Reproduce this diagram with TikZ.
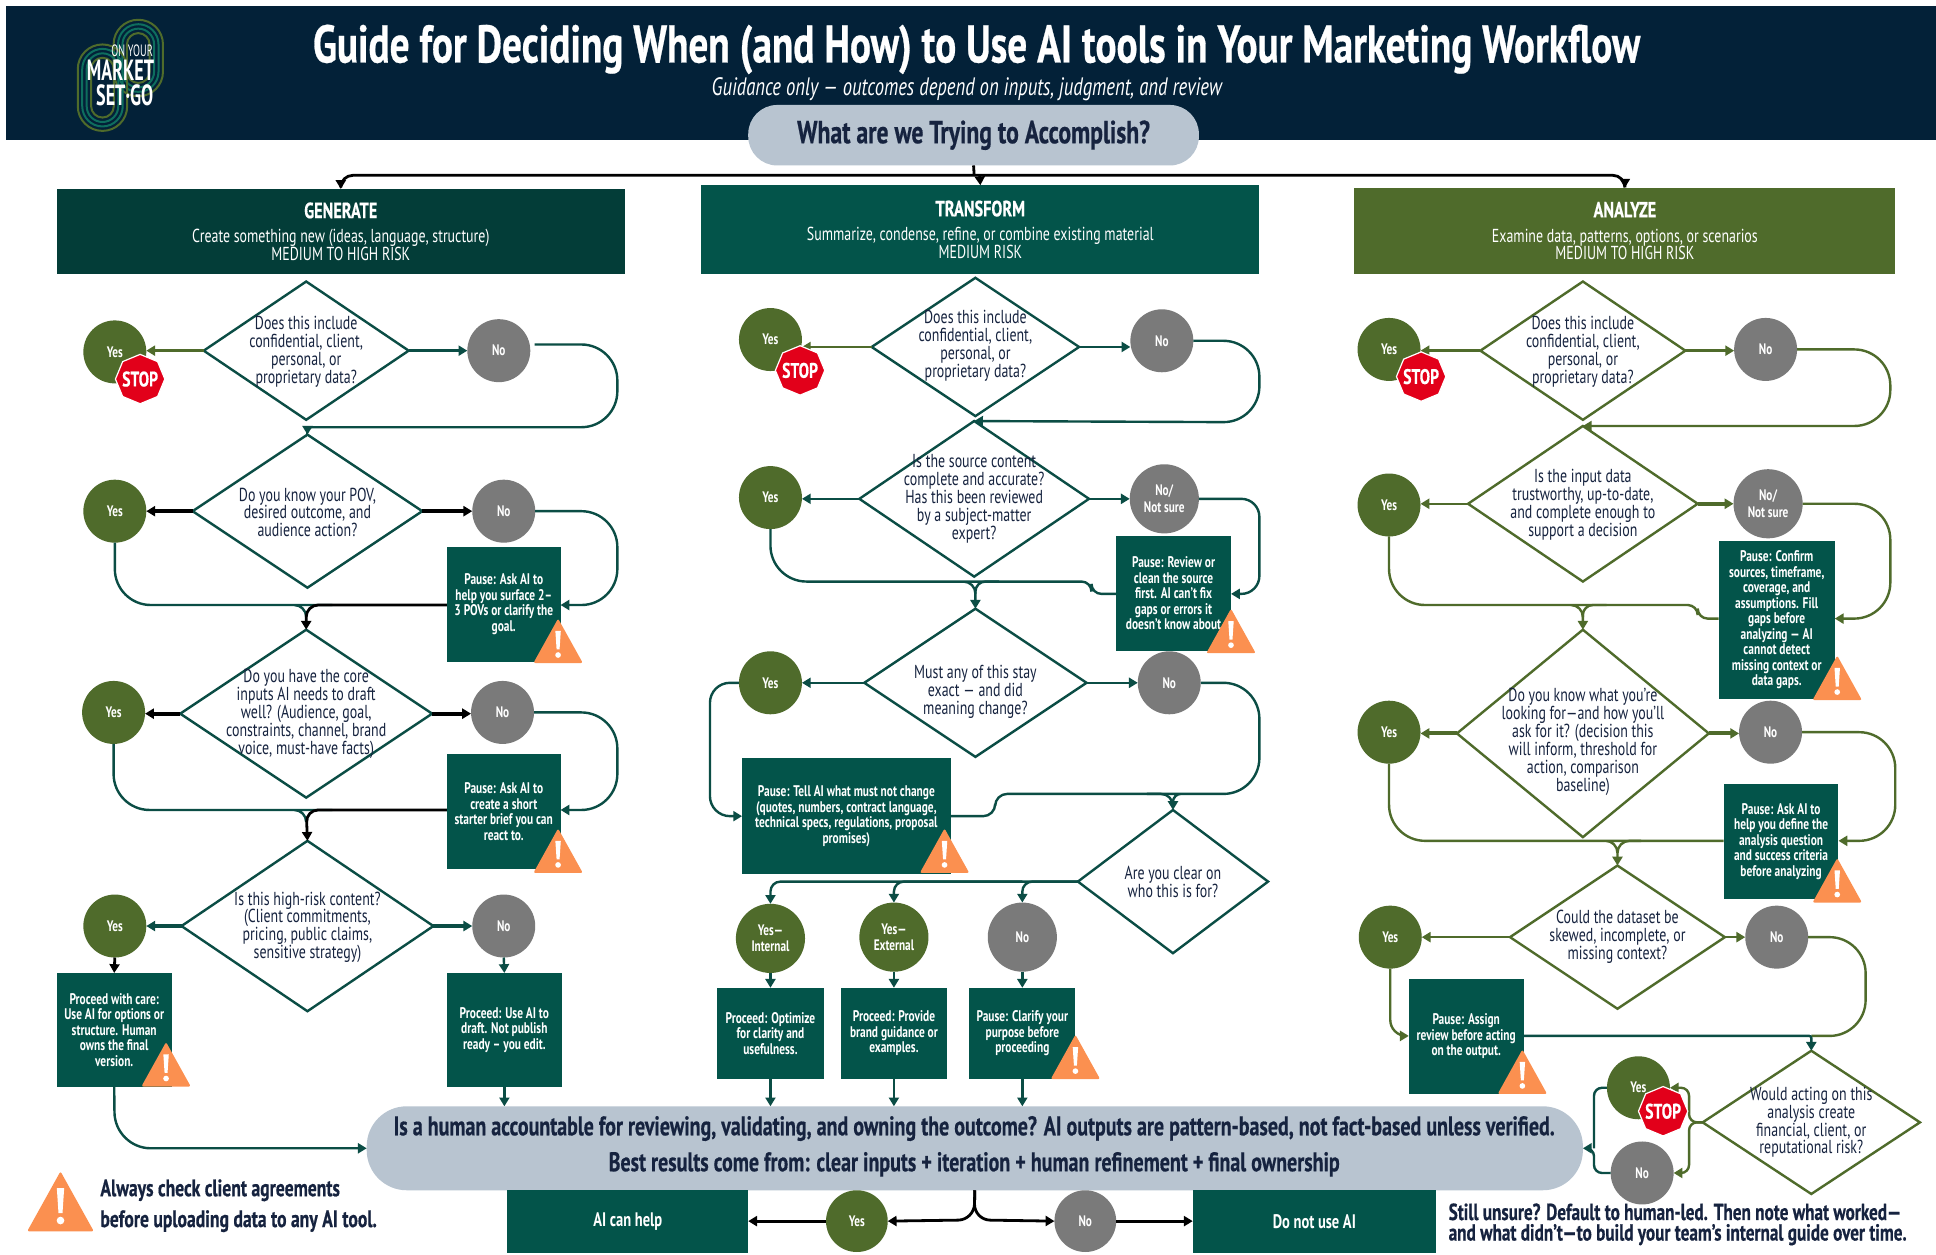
\documentclass[tikz,border=0pt]{standalone}
\usepackage{fontspec}
\setmainfont{PT Sans}[FakeStretch=0.74]
\newfontfamily\hv{PT Sans Bold}[FakeStretch=0.74,FakeBold=0.5]
\newfontfamily\lgf{PT Sans}[FakeStretch=0.62]
\usetikzlibrary{arrows.meta,shapes.geometric,calc}
\definecolor{navy}{HTML}{032138}
\definecolor{pillc}{HTML}{B8C4D0}
\definecolor{genc}{HTML}{033D38}
\definecolor{tealc}{HTML}{03544A}
\definecolor{olivec}{HTML}{4F6B2B}
\definecolor{greyc}{HTML}{7A7A7A}
\definecolor{orangec}{HTML}{FB9050}
\definecolor{redc}{HTML}{E2001A}
\definecolor{txtc}{HTML}{16233F}
\definecolor{linec}{HTML}{0B4D45}
\definecolor{logoa}{HTML}{4F6B2B}
\definecolor{logob}{HTML}{0E6E5E}
\newcommand\ux{0.61735pt}
\newcommand\bx[6]{\node[pbox,minimum width={(#4-#2)*\ux},minimum height={(#5-#3)*\ux}] (#1) at ({(#2+#4)/2},{(#3+#5)/2}) {#6};}
\newcommand\hb[7]{\node[hbar,fill=#7,minimum width={(#4-#2)*\ux},minimum height={(#5-#3)*\ux}] (#1) at ({(#2+#4)/2},{(#3+#5)/2}) {#6};}
\newcommand\dm[6]{\node[#2,minimum width={2*#5*\ux},minimum height={2*#6*\ux}] (#1) at (#3,#4) {};}
\newcommand\trk[6]{\draw[#6,line width=1pt,rounded corners=#5] (#1,#2) rectangle (#3,#4);}
\tikzset{
  pbox/.style={rectangle,fill=tealc,text=white,inner sep=0pt,outer sep=0pt,align=center,font=\fontsize{7.7}{7.75}\selectfont\bfseries},
  hbar/.style={pbox,font=\fontsize{9.4}{8.8}\selectfont},
  dmt/.style={diamond,draw=linec,fill=white,line width=1.2pt,inner sep=0pt,outer sep=0pt},
  dmo/.style={dmt,draw=olivec},
  qtext/.style={align=center,inner sep=0pt,text=txtc,font=\fontsize{9.4}{8.95}\selectfont},
  yesc/.style={circle,fill=olivec,text=white,minimum size=51*\ux,inner sep=0pt,outer sep=0pt,align=center,font=\fontsize{7.6}{8.2}\selectfont\bfseries},
  noc/.style={yesc,fill=greyc},
  lnt/.style={draw=linec,line width=1.2pt,rounded corners=18pt},
  lno/.style={draw=olivec,line width=1.2pt,rounded corners=18pt},
  lnb/.style={draw=black,line width=1.4pt,rounded corners=6pt},
  thick2/.style={line width=2pt},
  tip/.style={-{Triangle[length=4.4pt,width=5pt]}},
  stopsign/.style={regular polygon,regular polygon sides=8,shape border rotate=22.5,fill=redc,draw=white,line width=0.6pt,minimum size=40*\ux,inner sep=0pt,text=white,font=\fontsize{10.5}{10}\selectfont\hv},
  warn/.pic={
    \fill[orangec,rounded corners=1pt] (0,-18) -- (20,18) -- (-20,18) -- cycle;
    \fill[white] (-2.2,-8) -- (2.2,-8) -- (1.2,7) -- (-1.2,7) -- cycle;
    \fill[white] (0,11.5) circle[radius=2.3];
  },
  plain/.style={align=left,inner sep=0pt,anchor=west,text=txtc,font=\fontsize{11.9}{11}\selectfont\hv}
}
\begin{document}
\begin{tikzpicture}[x=0.61735pt,y=-0.61735pt]
\useasboundingbox (0,0) rectangle (1568,1015.7);
\fill[white] (0,0) rectangle (1568,1015.7);
\fill[navy] (5,5) rectangle (1568,113);
% logo
\trk{92}{16}{132}{78}{12.3pt}{logoa}
\trk{95.6}{19.6}{128.4}{74.4}{10.1pt}{logob}
\trk{99.2}{23.2}{124.8}{70.8}{7.9pt}{logob}
\trk{102.8}{26.8}{121.2}{67.2}{5.7pt}{logoa}
\trk{63}{36}{103}{106}{12.3pt}{logoa}
\trk{66.6}{39.6}{99.4}{102.4}{10.1pt}{logob}
\trk{70.2}{43.2}{95.8}{98.8}{7.9pt}{logob}
\trk{73.8}{46.8}{92.2}{95.2}{5.7pt}{logoa}
\node[inner sep=0pt,text=white,font=\fontsize{8.2}{8}\selectfont\lgf] (lg1) at (107,41) {ON YOUR};
\node[inner sep=0pt,text=white,font=\fontsize{14.6}{14}\selectfont\lgf\bfseries] (lg2) at (97.6,57) {MARKET};
\node[inner sep=0pt,text=white,font=\fontsize{14.6}{14}\selectfont\lgf\bfseries] (lg3) at (101,77) {SET·GO};
% title
\node[inner sep=0pt,text=white,font=\fontsize{26.5}{26}\selectfont\hv] (title) at (791,40) {Guide for Deciding When (and How) to Use AI tools in Your Marketing Workflow};
\node[inner sep=0pt,text=white,font=\fontsize{12.6}{13}\selectfont\itshape] (subt) at (783,72.5) {Guidance only — outcomes depend on inputs, judgment, and review};
\node[fill=pillc,rounded corners=14.5pt,minimum width=365*\ux,minimum height=49*\ux,inner sep=0pt,outer sep=0pt,text=txtc,font=\fontsize{16}{16}\selectfont\hv] (ask) at (788.5,109.5) {What are we Trying to Accomplish?};
% header bars
\hb{gen}{46}{153}{506}{222}{{\fontsize{11}{11}\selectfont\hv GENERATE}\\[3.5pt]Create something new (ideas, language, structure)\\MEDIUM TO HIGH RISK}{genc}
\hb{trf}{568}{150}{1020}{222}{{\fontsize{11}{11}\selectfont\hv TRANSFORM}\\[3.5pt]Summarize, condense, refine, or combine existing material\\MEDIUM RISK}{tealc}
\hb{ana}{1097}{152}{1535}{222}{{\fontsize{11}{11}\selectfont\hv ANALYZE}\\[3.5pt]Examine data, patterns, options, or scenarios\\MEDIUM TO HIGH RISK}{olivec}
% main pill
\node[fill=pillc,rounded corners=20pt,minimum width=985*\ux,minimum height=68*\ux,inner sep=0pt,outer sep=0pt] (main) at (789.5,930) {};
\node[inner sep=0pt,text=txtc,font=\fontsize{13.5}{13}\selectfont\hv] (m1) at (789,914) {Is a human accountable for reviewing, validating, and owning the outcome? AI outputs are pattern-based, not fact-based unless verified.};
\node[inner sep=0pt,text=txtc,font=\fontsize{13.5}{13}\selectfont\hv] (m2) at (789,943) {Best results come from: clear inputs + iteration + human refinement + final ownership};
% column 1
\dm{ad}{dmt}{248}{284}{83}{56}
\dm{bd}{dmt}{249}{414}{93}{62}
\dm{cd}{dmt}{248}{578}{102}{68}
\dm{dd}{dmt}{249}{750}{102}{69}
\node[qtext] (adt) at (248,285) {Does this include\\confidential, client,\\personal, or\\proprietary data?};
\node[qtext] (bdt) at (249,415) {Do you know your POV,\\desired outcome, and\\audience action?};
\node[qtext] (cdt) at (248,578) {Do you have the core\\inputs AI needs to draft\\well? (Audience, goal,\\constraints, channel, brand\\voice, must-have facts)};
\node[qtext] (ddt) at (249,751) {Is this high-risk content?\\(Client commitments,\\pricing, public claims,\\sensitive strategy)};
\node[yesc] (ay) at (93,285) {Yes};
\node[noc] (an) at (404,284) {No};
\node[yesc] (by) at (93,414) {Yes};
\node[noc] (bn) at (408,414) {No};
\node[yesc] (cy) at (92,577) {Yes};
\node[noc] (cn) at (407,577) {No};
\node[yesc] (dy) at (93,750) {Yes};
\node[noc] (dn) at (408,750) {No};
\bx{bp}{362}{443}{454}{536}{Pause: Ask AI to\\help you surface 2–\\3 POVs or clarify the\\goal.}
\bx{cp}{362}{611}{454}{704}{Pause: Ask AI to\\create a short\\starter brief you can\\react to.}
\bx{dpa}{46}{788}{139}{880}{Proceed with care:\\Use AI for options or\\structure. Human\\owns the final\\version.}
\bx{dpb}{362}{788}{455}{880}{Proceed: Use AI to\\draft. Not publish\\ready – you edit.}
% column 2
\dm{ed}{dmt}{790}{281}{84}{56}
\dm{fd}{dmt}{789}{404}{93}{63}
\dm{gd}{dmt}{790}{553}{90}{60}
\dm{hd}{dmt}{950}{714}{77}{58}
\node[qtext] (edt) at (790,280) {Does this include\\confidential, client,\\personal, or\\proprietary data?};
\node[qtext] (fdt) at (789,404) {Is the source content\\complete and accurate?\\Has this been reviewed\\by a subject-matter\\expert?};
\node[qtext] (gdt) at (790,560.5) {Must any of this stay\\exact — and did\\meaning change?};
\node[qtext] (hdt) at (950,714) {Are you clear on\\who this is for?};
\node[yesc] (ey) at (624,275) {Yes};
\node[noc] (en) at (941,276) {No};
\node[yesc] (fy) at (624,403) {Yes};
\node[noc,minimum size=56*\ux] (fn) at (943,404) {No/\\Not sure};
\node[yesc] (gy) at (624,553) {Yes};
\node[noc] (gn) at (947,553) {No};
\bx{fp}{904}{434}{997}{527}{Pause: Review or\\clean the source\\first. AI can't fix\\gaps or errors it\\doesn't know about}
\bx{gp}{601}{614}{770}{708}{Pause: Tell AI what must not change\\(quotes, numbers, contract language,\\technical specs, regulations, proposal\\promises)}
\node[yesc,minimum size=56*\ux] (hya) at (624,760) {Yes—\\Internal};
\node[yesc,minimum size=56*\ux] (hyb) at (724,759) {Yes—\\External};
\node[noc,minimum size=56*\ux] (hn) at (828,759) {No};
\bx{hpa}{581}{800}{667}{874}{Proceed: Optimize\\for clarity and\\usefulness.}
\bx{hpb}{681}{800}{767}{874}{Proceed: Provide\\brand guidance or\\examples.}
\bx{hpc}{785}{800}{871}{874}{Pause: Clarify your\\purpose before\\proceeding}
% column 3
\dm{id}{dmo}{1282}{284}{83}{56}
\dm{jd}{dmo}{1282}{408}{93}{63}
\dm{kd}{dmo}{1282}{594}{102}{84}
\dm{ld}{dmo}{1310}{759}{87}{58}
\dm{md}{dmo}{1467}{909}{88}{58}
\node[qtext] (idt) at (1282,285) {Does this include\\confidential, client,\\personal, or\\proprietary data?};
\node[qtext] (jdt) at (1282,408.5) {Is the input data\\trustworthy, up-to-date,\\and complete enough to\\support a decision};
\node[qtext] (kdt) at (1282,601) {Do you know what you're\\looking for—and how you'll\\ask for it? (decision this\\will inform, threshold for\\action, comparison\\baseline)};
\node[qtext] (ldt) at (1310,759) {Could the dataset be\\skewed, incomplete, or\\missing context?};
\node[qtext] (mdt) at (1467,909) {Would acting on this\\analysis create\\financial, client, or\\reputational risk?};
\node[yesc] (iy) at (1125,283) {Yes};
\node[noc] (in) at (1430,283) {No};
\node[yesc] (jy) at (1125,409) {Yes};
\node[noc,minimum size=56*\ux] (jn) at (1432,408) {No/\\Not sure};
\node[yesc] (ky) at (1125,593) {Yes};
\node[noc] (kn) at (1434,593) {No};
\node[yesc] (ly) at (1126,759) {Yes};
\node[noc] (ln) at (1439,759) {No};
\node[yesc] (my) at (1327,881) {Yes};
\node[noc] (mn) at (1330,950) {No};
\bx{jp}{1392}{438}{1486}{566}{Pause: Confirm\\sources, timeframe,\\coverage, and\\assumptions. Fill\\gaps before\\analyzing — AI\\cannot detect\\missing context or\\data gaps.}
\bx{kp}{1396}{635}{1489}{728}{Pause: Ask AI to\\help you define the\\analysis question\\and success criteria\\before analyzing}
\bx{lp}{1141}{793}{1234}{886}{Pause: Assign\\review before acting\\on the output.}
% bottom row
\bx{canh}{411}{964}{606}{1015}{\fontsize{9.8}{10}\selectfont AI can help}
\bx{dont}{966}{964}{1163}{1015}{\fontsize{9.8}{10}\selectfont Do not use AI}
\node[yesc,minimum size=50*\ux] (zy) at (694,989) {Yes};
\node[noc,minimum size=50*\ux] (zn) at (879,989) {No};
\node[plain] (nl1) at (81,964) {Always check client agreements};
\node[plain] (nl2) at (81,989) {before uploading data to any AI tool.};
\node[plain,font=\fontsize{11.6}{11}\selectfont\hv] (nr1) at (1173,981.5) {Still unsure? Default to human-led. Then note what worked—};
\node[plain,font=\fontsize{11.6}{11}\selectfont\hv] (nr2) at (1173,1000) {and what didn’t—to build your team’s internal guide over time.};
% ---- connectors: top
\coordinate (topa) at (789,142);
\coordinate (topb) at (793.5,142);
\draw[lnb] (ask.south) -- (topa);
\draw[lnb,tip] (topa) -- (276,142) -- (gen.north);
\draw[lnb,tip] (topb) -- (trf.north);
\draw[lnb,tip] (topa) -- (1316,142) -- (ana.north);
% column 1
\draw[lno,tip] (ad.west) -- (ad.west -| ay.east);
\draw[lnt,tip] (ad.east) -- (ad.east -| an.west);
\coordinate (ano) at (433,279);
\draw[lnt,tip] (ano) -- (500,279) -- (500,346) [rounded corners=2pt] -- (249,346) -- (bd.north);
\draw[lnb,thick2,tip] (bd.west) -- (bd.west -| by.east);
\draw[lnb,thick2,tip] (bd.east) -- (bd.east -| bn.west);
\draw[lnt,tip] (bn.east) -- (500,414) -- (500,490) -- (bp.east |- 0,490);
\draw[lnt] (by.south) -- (93,490) -- (240,490) [rounded corners=6pt] -- (248,490) -- (248,498);
\draw[lnb,tip] (bp.west |- 0,490) -- (248,490) -- (cd.north);
\draw[lnb,thick2,tip] (cd.west) -- (cd.west -| cy.east);
\draw[lnb,thick2,tip] (cd.east) -- (cd.east -| cn.west);
\draw[lnt,tip] (cn.east) -- (500,577) -- (500,656) -- (cp.east |- 0,656);
\draw[lnt] (cy.south) -- (92,656) -- (240,656) [rounded corners=6pt] -- (248,656) -- (248,664);
\draw[lnb,tip] (cp.west |- 0,656) -- (248,656) -- (dd.north);
\draw[lnt,thick2,tip] (dd.west) -- (dd.west -| dy.east);
\draw[lnt,thick2,tip] (dd.east) -- (dd.east -| dn.west);
\draw[lnb,tip] (dy.south) -- (dpa.north);
\draw[lnt,tip] (dn.south) -- (dpb.north);
\draw[lnt,tip] (dpb.south) -- (dpb.south |- main.north);
\draw[lnt,tip] (dpa.south) -- (93,930) -- (main.west);
% column 2
\draw[lno,tip] (ed.west) -- (ed.west -| ey.east);
\draw[lnt,tip] (ed.east) -- (ed.east -| en.west);
\draw[lnt,tip] (en.east) -- (1020,276) -- (1020,342) -- (fd.north);
\draw[lnt,tip] (fd.west) -- (fd.west -| fy.east);
\draw[lnt,tip] (fd.east) -- (fd.east -| fn.west);
\draw[lnt,tip,rounded corners=9pt] (fn.east) -- (1020,404) -- (1020,481) -- (fp.east |- 0,481);
\draw[lnt] (fy.south) -- (624,471) -- (780,471) [rounded corners=6pt] -- (790,471) -- (790,480);
\draw[lnt,tip,rounded corners=5pt] (fp.west |- 0,481) -- (884,481) -- (884,471) -- (790,471) -- (gd.north);
\draw[lnt,tip] (gd.west) -- (gd.west -| gy.east);
\draw[lnt,tip] (gd.east) -- (gd.east -| gn.west);
\draw[lnt,tip,rounded corners=10pt] (gy.west) -- (575,553) -- (575,661) -- (gp.west |- 0,661);
\draw[lnt] (gn.east) -- (1020,553) -- (1020,643) -- (958,643) [rounded corners=4pt] -- (950,643) -- (950,650);
\draw[lnt,tip,rounded corners=6pt] (gp.east |- 0,661) -- (806,661) -- (806,643) -- (950,643) -- (hd.north);
\coordinate (hbr) at (828,714);
\draw[lnt,tip,rounded corners=5pt] (hd.west) -- (624,714) -- (hya.north);
\draw[lnt,tip,rounded corners=5pt] (hbr) -- (724,714) -- (hyb.north);
\draw[lnt,tip,rounded corners=5pt] (hd.west) -- (828,714) -- (hn.north);
\draw[lnt,tip] (hya.south) -- (hpa.north);
\draw[lnt,tip] (hyb.south) -- (hpb.north);
\draw[lnt,tip] (hn.south) -- (hpc.north);
\draw[lnt,tip] (hpa.south) -- (hpa.south |- main.north);
\draw[lnt,tip] (hpb.south) -- (hpb.south |- main.north);
\draw[lnt,tip] (hpc.south) -- (hpc.south |- main.north);
% column 3
\draw[lno,tip] (id.west) -- (id.west -| iy.east);
\draw[lno,tip] (id.east) -- (id.east -| in.west);
\draw[lno,tip] (in.east) -- (1531,283) -- (1531,345) -- (jd.north);
\draw[lno,tip] (jd.west) -- (jd.west -| jy.east);
\draw[lno,thick2,tip] (jd.east) -- (jd.east -| jn.west);
\draw[lno,tip] (jn.east) -- (1531,408) -- (1531,501) -- (jp.east |- 0,501);
\draw[lno] (jy.south) -- (1125,490) -- (1272,490) [rounded corners=6pt] -- (1282,490) -- (1282,498);
\draw[lno,tip,rounded corners=5pt] (jp.west |- 0,501) -- (1375,501) -- (1375,490) -- (1282,490) -- (kd.north);
\draw[lno,thick2,tip] (kd.west) -- (kd.west -| ky.east);
\draw[lno,thick2,tip] (kd.east) -- (kd.east -| kn.west);
\draw[lno,tip] (kn.east) -- (1535,593) -- (1535,681) -- (kp.east |- 0,681);
\draw[lno] (ky.south) -- (1125,681) -- (1300,681) [rounded corners=6pt] -- (1310,681) -- (1310,690);
\draw[lno,tip,rounded corners=6pt] (kp.west |- 0,681) -- (1310,681) -- (ld.north);
\draw[lno,tip] (ld.west) -- (ld.west -| ly.east);
\draw[lno,tip] (ld.east) -- (ld.east -| ln.west);
\draw[lno,rounded corners=8pt,tip] (ly.south) -- (1126,839) -- (lp.west |- 0,839);
\draw[lno] (ln.east) -- (1511,759) -- (1511,839) -- (1467,839);
\draw[lnt,tip,rounded corners=1pt] (lp.east |- 0,839) -- (1467,839) -- (md.north);
\draw[lno,tip,rounded corners=4pt] (md.west) -- (1368,909) -- (1368,881) -- (my.east);
\draw[lno,tip,rounded corners=4pt] (md.west) -- (1368,909) -- (1368,950) -- (mn.east);
\draw[lnt,rounded corners=4pt] (my.west) -- (1291,881) -- (1291,930);
\draw[lnt,tip,rounded corners=4pt] (mn.west) -- (1291,950) -- (1291,930) -- (main.east);
% bottom
\coordinate (zs) at (789,988);
\draw[lnb,tip,rounded corners=8pt] (main.south) -- (zs) -- (zy.east);
\draw[lnb,tip,rounded corners=8pt] (main.south) -- (zs) -- (zn.west);
\draw[lnb,tip] (zy.west) -- (canh.east |- zy.west);
\draw[lnb,tip] (zn.east) -- (dont.west |- zn.east);
% signs
\node[stopsign] (sa) at (113.5,307) {\makebox[0pt]{STOP}};
\node[stopsign] (se) at (648,300) {\makebox[0pt]{STOP}};
\node[stopsign] (si) at (1151,305) {\makebox[0pt]{STOP}};
\node[stopsign] (sm) at (1347,900) {\makebox[0pt]{STOP}};
\pic at (452,519) {warn};
\pic at (452,689) {warn};
\pic at (134.5,862) {warn};
\pic at (997,511) {warn};
\pic at (765,689) {warn};
\pic at (871,856) {warn};
\pic at (1488,549) {warn};
\pic at (1488,713) {warn};
\pic at (1233,868) {warn};
\pic[scale=1.35] at (49,973) {warn};
\end{tikzpicture}
\end{document}
